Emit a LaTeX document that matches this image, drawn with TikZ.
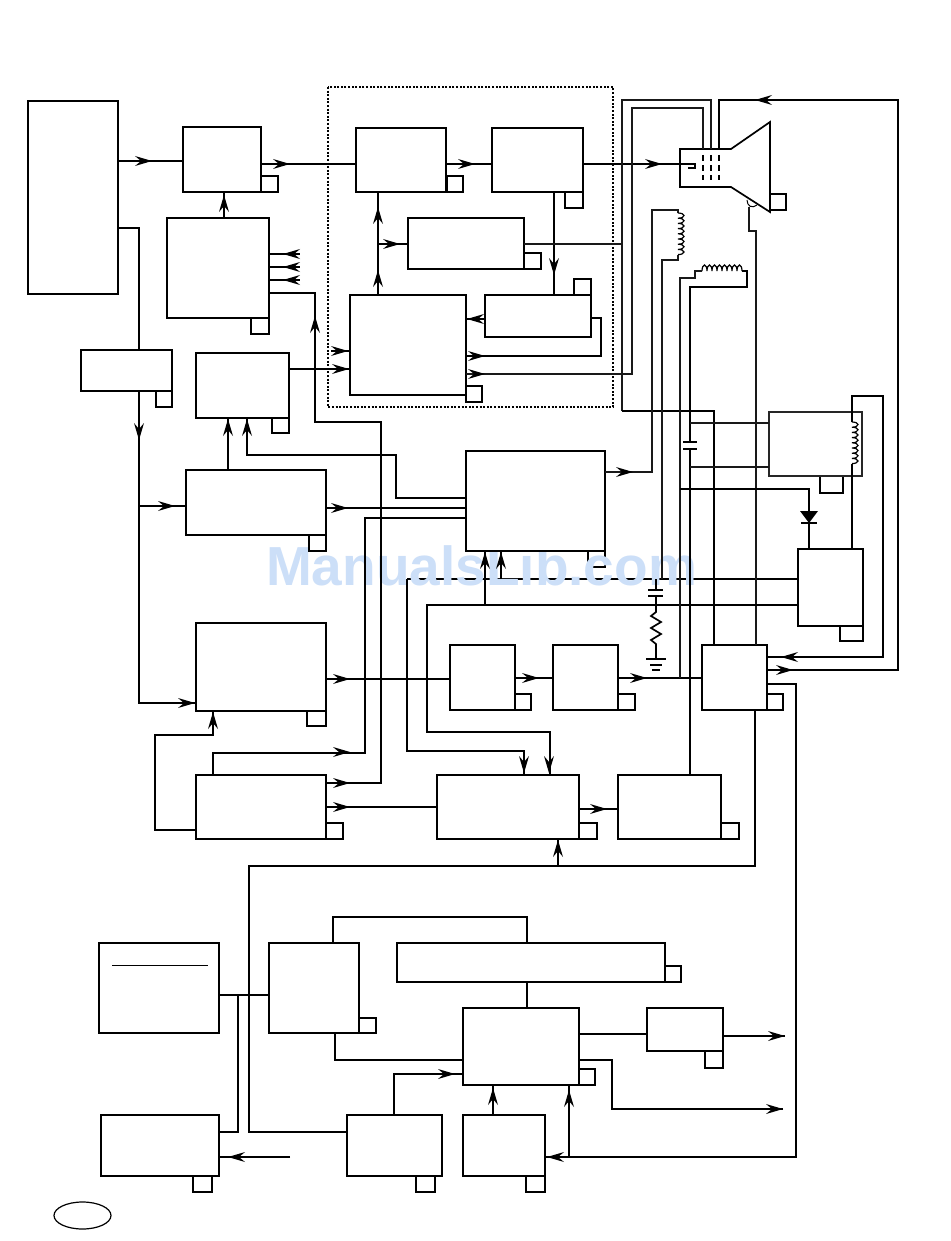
\documentclass[tikz,border=0pt]{standalone}
\usepackage{fontspec}
\setmainfont{Liberation Sans}
\definecolor{wm}{HTML}{CCDFF8}
\tikzset{
  x=1pt,y=-1pt,
  box/.style={draw=black,line width=1.7pt,fill=white,inner sep=0pt,outer sep=0pt},
  tagbox/.style={draw=black,line width=1.7pt,fill=white,inner sep=0pt,outer sep=0pt},
  wire/.style={draw=black,line width=1.7pt,line join=miter},
  thin wire/.style={draw=black!90,line width=1.3pt},
  coil/.style={line width=1.2pt}
}
% box: name x1 y1 x2 y2
\newcommand\bx[5]{\node[box,anchor=north west,minimum width=#4pt-#2pt,minimum height=#5pt-#3pt] (#1) at (#2,#3) {};}
\newcommand\tg[4]{\draw[tagbox] (#1,#2) rectangle (#3,#4);}
% arrowhead: tip x, tip y, angle on the page
\newcommand\hd[3]{\fill[black,shift={(#1,#2)},rotate=#3] (0,0) -- (-17,5) -- (-11,0) -- (-17,-5) -- cycle;}
% coils: scalloped windings
\newcommand\vcoil[3]{\draw[coil] (#1,#2) \foreach \i in {1,...,#3} {arc[start angle=-90,end angle=90,x radius=6,y radius=2.6]};}
\newcommand\hcoil[3]{\draw[coil] (#1,#2) \foreach \i in {1,...,#3} {arc[start angle=180,end angle=360,x radius=2.5,y radius=6]};}
\begin{document}
\begin{tikzpicture}
\useasboundingbox (0,0) rectangle (950,1241);
\fill[white] (0,0) rectangle (950,1241);
% parts beneath the watermark
\draw[wire] (407,579) -- (798,579);
\tg{588}{551}{605}{567}
\node[text=wm,font=\bfseries\fontsize{55}{55}\selectfont,anchor=base,inner sep=0pt] (wmk) at (481.5,585.5) {ManualsLib.com};

% ---- boxes ----
\bx{a}{28}{101}{118}{294}
\bx{b}{183}{127}{261}{192}
\bx{c}{167}{218}{269}{318}
\bx{e}{356}{128}{446}{192}
\bx{f}{492}{128}{583}{192}
\bx{g}{408}{218}{524}{269}
\bx{h}{350}{295}{466}{395}
\bx{i}{485}{295}{591}{337}
\bx{j}{81}{350}{172}{391}
\bx{k}{196}{353}{289}{418}
\bx{l}{186}{470}{326}{535}
\bx{m}{466}{451}{605}{551}
\bx{n}{196}{623}{326}{711}
\bx{o}{450}{645}{515}{710}
\bx{p}{553}{645}{618}{710}
\bx{q}{702}{645}{767}{710}
\bx{r}{196}{775}{326}{839}
\bx{s}{437}{775}{579}{839}
\bx{t}{618}{775}{721}{839}
\bx{v}{798}{549}{863}{626}
\bx{w}{99}{943}{219}{1033}
\bx{xx}{269}{943}{359}{1033}
\bx{yy}{397}{943}{665}{982}
\bx{z}{463}{1008}{579}{1085}
\bx{aa}{647}{1008}{723}{1051}
\bx{ab}{101}{1115}{219}{1176}
\bx{ac}{347}{1115}{442}{1176}
\bx{ad}{463}{1115}{545}{1176}
\draw[line width=1pt] (112,965) -- (208,965);
\draw[line width=1.2pt] (82.5,1215.5) ellipse [x radius=28.5,y radius=13.5];
% dotted group
\draw[line width=1.6pt,dash pattern=on 2pt off 1.6pt] (328,87) rectangle (613,407);
% tags
\tg{261}{176}{278}{192}\tg{251}{318}{269}{334}\tg{447}{176}{463}{192}
\tg{565}{192}{583}{208}\tg{524}{253}{541}{269}\tg{466}{386}{482}{402}
\tg{574}{279}{591}{295}\tg{156}{391}{172}{407}\tg{272}{418}{289}{433}
\tg{309}{535}{326}{551}\tg{307}{711}{326}{726}
\tg{515}{694}{531}{710}\tg{618}{694}{635}{710}\tg{767}{694}{783}{710}
\tg{326}{823}{343}{839}\tg{579}{823}{597}{839}\tg{721}{823}{739}{839}
\tg{820}{476}{843}{493}\tg{840}{626}{863}{641}\tg{359}{1018}{376}{1033}
\tg{665}{966}{681}{982}\tg{579}{1069}{595}{1085}\tg{705}{1051}{723}{1068}
\tg{193}{1176}{212}{1192}\tg{416}{1176}{435}{1192}\tg{526}{1176}{545}{1192}
\tg{770}{194}{786}{210}

% CRT
\draw[wire,line join=miter] (680,149) -- (731,149) -- (770,122) -- (770,212) -- (731,187) -- (680,187) -- cycle;
\foreach \xx in {703,711,719} \draw[line width=1.4pt,dash pattern=on 6pt off 4pt] (\xx,155) -- (\xx,180);
\draw[wire] (f.east |- 0,164) -- (695,164) -- (695,168) -- (688,168);
\hd{662}{164}{0}
% anode
\draw[line width=1pt] (747,200) .. controls (747,206) and (752,209) .. (757,205);
\draw[thin wire] (749,207) -- (749,231) -- (756,231) -- (756,645);
% coil box
\node[draw=black!85,line width=1.4pt,fill=white,anchor=north west,minimum width=93pt,minimum height=64pt,inner sep=0pt,outer sep=0pt] (u) at (769,412) {};

% ---- connectors ----
\draw[wire] (a.east |- 0,161) -- (b.west |- 0,161); \hd{152}{161}{0}
\draw[wire] (b.east |- 0,164) -- (e.west |- 0,164); \hd{290}{164}{0}
\draw[wire] (c.north -| 224,0) -- (b.south -| 224,0); \hd{224}{195}{90}
\foreach \yy in {254,267,280} {\draw[wire] (c.east |- 0,\yy) -- (300,\yy); \hd{283}{\yy}{180}}
\draw[wire] (c.east |- 0,293) -- (315,293) -- (315,422) -- (381,422) -- (381,783) -- (r.east |- 0,783);
\hd{315}{316}{90}\hd{350}{783}{0}
\draw[wire] (e.east |- 0,164) -- (f.west |- 0,164); \hd{475}{164}{0}
\draw[wire] (h.north -| 378,0) -- (e.south -| 378,0); \hd{378}{207}{90}\hd{378}{270}{90}
\draw[wire] (378,244) -- (g.west |- 0,244); \hd{400}{244}{0}
\draw[wire] (f.south -| 554,0) -- (i.north -| 554,0); \hd{554}{275}{-90}
\draw[thin wire] (g.east |- 0,244) -- (622,244);
\draw[wire] (i.west |- 0,319) -- (h.east |- 0,319); \hd{467}{319}{180}
\draw[wire] (i.east |- 0,318) -- (601,318) -- (601,356) -- (h.east |- 0,356); \hd{485}{356}{0}
\draw[thin wire] (h.east |- 0,374) -- (632,374) -- (632,108) -- (703,108) -- (703,149); \hd{485}{374}{0}
\draw[thin wire] (622,411) -- (622,100) -- (711,100) -- (711,149);
\draw[wire] (622,411) -- (714,411) -- (q.north -| 714,0);
\draw[wire] (719,149) -- (719,100) -- (898,100) -- (898,670) -- (q.east |- 0,670);
\hd{755}{100}{180}\hd{793}{670}{0}
\draw[wire] (v.north -| 852,0) -- (852,464);
\vcoil{852}{422}{8}
\draw[wire] (852,422) -- (852,396) -- (883,396) -- (883,657) -- (q.east |- 0,657); \hd{781}{657}{180}
\draw[wire] (331,351) -- (h.west |- 0,351); \hd{348}{351}{0}
\draw[wire] (k.east |- 0,369) -- (h.west |- 0,369); \hd{349}{369}{0}
\draw[wire] (a.east |- 0,228) -- (139,228) -- (j.north -| 139,0);
\draw[wire] (j.south -| 139,0) -- (139,703) -- (n.west |- 0,703); \hd{139}{440}{-90}\hd{195}{703}{0}
\draw[wire] (139,506) -- (l.west |- 0,506); \hd{175}{506}{0}
\draw[wire] (l.north -| 228,0) -- (k.south -| 228,0); \hd{228}{419}{90}
\draw[wire] (k.south -| 247,0) -- (247,455) -- (396,455) -- (396,498) -- (m.west |- 0,498); \hd{247}{419}{90}
\draw[wire] (l.east |- 0,508) -- (m.west |- 0,508); \hd{348}{508}{0}
\draw[wire] (r.north -| 213,0) -- (213,753) -- (365,753) -- (365,518) -- (m.west |- 0,518); \hd{350}{752}{0}
\draw[wire] (n.east |- 0,679) -- (o.west |- 0,679); \hd{350}{679}{0}
\draw[wire] (o.east |- 0,678) -- (p.west |- 0,678); \hd{539}{678}{0}
\draw[wire] (p.east |- 0,678) -- (q.west |- 0,678); \hd{647}{678}{0}
\draw[wire] (407,579) -- (407,751) -- (524,751) -- (s.north -| 524,0); \hd{524}{773}{-90}
\draw[wire] (v.west |- 0,605) -- (427,605) -- (427,732) -- (550,732) -- (s.north -| 550,0); \hd{549}{773}{-90}
\draw[wire] (485,605) -- (m.south -| 485,0); \hd{485}{552}{90}
\draw[wire] (501,579) -- (m.south -| 501,0); \hd{501}{552}{90}
\draw[wire] (r.west |- 0,830) -- (155,830) -- (155,735) -- (213,735) -- (n.south -| 213,0); \hd{213}{712}{90}
\draw[wire] (r.east |- 0,807) -- (s.west |- 0,807); \hd{350}{807}{0}
\draw[wire] (s.east |- 0,809) -- (t.west |- 0,809); \hd{607}{809}{0}
% deflection coils and supply lines
\draw[thin wire] (m.east |- 0,472) -- (652,472) -- (652,210) -- (678,210) -- (678,213);
\hd{633}{472}{0}
\vcoil{678}{213}{8}
\draw[thin wire] (678,255) -- (678,260) -- (662,260) -- (662,579);
\draw[wire] (t.north -| 690,0) -- (690,449);
\draw[wire] (690,442) -- (690,287) -- (747,287) -- (747,271) -- (742,271);
\hcoil{702}{271}{8}
\draw[thin wire] (702,271) -- (695,271) -- (695,278) -- (680,278) -- (680,678);
\draw[wire] (683,442) -- (697,442) (683,449) -- (697,449);
\draw[thin wire] (690,423) -- (u.west |- 0,423);
\draw[thin wire] (690,467) -- (u.west |- 0,467);
\draw[wire] (680,489) -- (809,489) -- (809,511);
\fill[black] (800,511) -- (818,511) -- (809,523) -- cycle;
\draw[wire] (801,523) -- (817,523);
\draw[wire] (809,523) -- (v.north -| 809,0);
% series RC to ground
\draw[wire] (656,579) -- (656,590) (648,590) -- (663,590) (648,596) -- (663,596);
\draw[wire] (656,596) -- (656,612) -- (651,616) -- (661,622) -- (651,628) -- (661,634) -- (651,640) -- (656,644) -- (656,659);
\draw[wire] (646,659) -- (666,659) (650,665) -- (662,665) (652,670) -- (660,670);
% from Q downwards
\draw[wire] (q.south -| 755,0) -- (755,866) -- (249,866) -- (249,1132) -- (ac.west |- 0,1132);
\draw[wire] (558,866) -- (s.south -| 558,0); \hd{558}{840}{90}
\draw[wire] (q.east |- 0,684) -- (796,684) -- (796,1157) -- (ad.east |- 0,1157); \hd{547}{1157}{180}
\draw[wire] (569,1157) -- (z.south -| 569,0); \hd{569}{1090}{90}
\draw[wire] (ad.north -| 493,0) -- (z.south -| 493,0); \hd{493}{1088}{90}
\draw[wire] (w.east |- 0,995) -- (xx.west |- 0,995);
\draw[wire] (238,995) -- (238,1132) -- (ab.east |- 0,1132);
\coordinate (free1) at (290,1157);
\draw[wire] (free1) -- (ab.east |- 0,1157); \hd{228}{1157}{180}
\draw[wire] (xx.north -| 333,0) -- (333,917) -- (527,917) -- (yy.north -| 527,0);
\draw[wire] (yy.south -| 527,0) -- (z.north -| 527,0);
\draw[wire] (xx.south -| 335,0) -- (335,1060) -- (z.west |- 0,1060);
\draw[wire] (ac.north -| 394,0) -- (394,1074) -- (z.west |- 0,1074); \hd{455}{1074}{0}
\draw[wire] (z.east |- 0,1034) -- (aa.west |- 0,1034);
\coordinate (free2) at (785,1036);
\draw[wire] (aa.east |- 0,1036) -- (free2); \hd{785}{1036}{0}
\coordinate (free3) at (783,1109);
\draw[wire] (z.east |- 0,1060) -- (612,1060) -- (612,1109) -- (free3); \hd{783}{1109}{0}
\end{tikzpicture}
\end{document}
